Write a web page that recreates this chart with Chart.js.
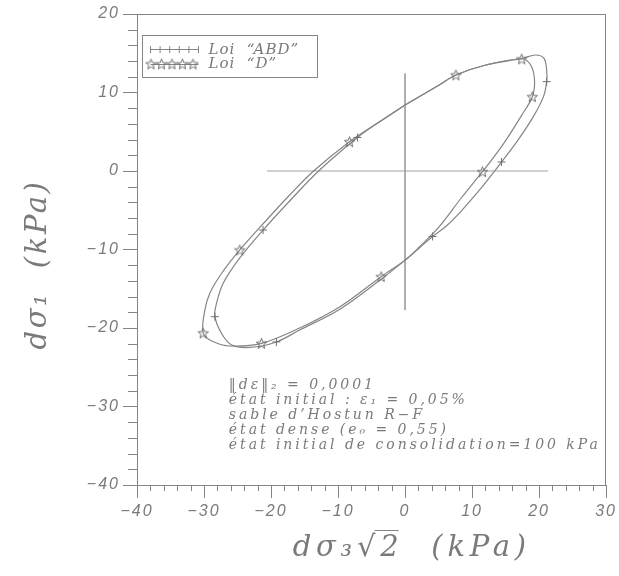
<!DOCTYPE html>
<html>
<head>
<meta charset="utf-8">
<script src="https://cdn.jsdelivr.net/npm/chart.js@4.4.1/dist/chart.umd.min.js"></script>
<style>
  html, body { margin: 0; padding: 0; background: #fff; }
  #wrap { width: 619px; height: 576px; }
</style>
</head>
<body>
<div id="wrap"><canvas id="graf"></canvas></div>
<script>
// Loi "D" (courbe fermée)
const loiD_x = [0, 5.10, 7.59, 12.05, 17.41, 18.75, 19.32, 18.99, 17.37, 14.96, 13.04, 11.55, 8.38, 5.10, 2.13, 0.04,
  -3.57, -9.78, -15.73, -21.43, -26.15, -28.68, -30.12, -29.87, -29.12, -27.34, -24.66, -20.94, -17.22, -13.65, -8.29, -4.12, 0];
const loiD_y = [8.41, 10.96, 12.23, 13.50, 14.27, 13.50, 11.59, 9.46, 7.06, 3.81, 1.54, -0.09, -3.44, -7.10, -9.68, -11.34,
  -13.46, -17.32, -20.0, -21.95, -22.29, -21.72, -20.64, -17.71, -15.54, -12.99, -10.06, -6.50, -3.06, 0, 3.73, 6.11, 8.41];

// Loi "ABD" (courbe fermée)
const loiABD_x = [0, 5.10, 7.59, 12.05, 17.41, 19.49, 20.73, 21.13, 21.13, 20.68, 19.21, 16.74, 14.40, 13.29, 11.06, 8.38, 6.15,
  4.11, 2.13, 0.04, -3.53, -9.78, -15.73, -19.20, -23.17, -25.85, -27.34, -28.38, -28.13, -27.14, -24.66, -21.19, -17.22, -12.90, -7.10, -3.9, 0];
const loiABD_y = [8.41, 10.96, 12.23, 13.50, 14.33, 14.78, 14.36, 12.87, 11.38, 9.54, 7.02, 3.80, 1.15, -0.09, -2.48, -5.10, -7.01,
  -8.34, -9.81, -11.34, -13.76, -17.64, -20.25, -21.78, -22.48, -22.17, -20.76, -18.56, -16.85, -14.31, -11.08, -7.52, -3.82, 0, 4.27, 6.2, 8.41];

// marqueurs
const etoilesD_x = [17.41, 7.59, -8.29, -24.66, -30.12, -21.43, -3.57, 11.55, 18.99];
const etoilesD_y = [14.27, 12.23, 3.73, -10.06, -20.64, -21.95, -13.46, -0.09, 9.46];
const croixABD_x = [21.13, 14.40, 4.11, -7.10, -21.19, -28.38, -19.20];
const croixABD_y = [11.38, 1.15, -8.34, 4.27, -7.52, -18.56, -21.78];

// axes de référence
const axeH_x = [-20.6, 21.35];
const axeH_y = [0, 0];
const axeV_x = [0, 0];
const axeV_y = [12.42, -17.71];

const legendeTextes = ['Loi  \u201CABD\u201D', 'Loi  \u201CD\u201D'];
const notes = [
  '\u2016d\u03B5\u2016\u2082 = 0,0001',
  '\u00E9tat initial : \u03B5\u2081 = 0,05%',
  'sable d\u2019Hostun R\u2212F',
  '\u00E9tat dense (e\u2080 = 0,55)',
  '\u00E9tat initial de consolidation=100 kPa'
];
const titreX = 'd\u03C3\u2083\u221A2  (kPa)';
const titreY = 'd\u03C3\u2081  (kPa)';

const gris = '#858585';
const grisClair = '#a2a2a2';
const grisTexte = '#7a7a7a';
const serif = '"DejaVu Serif", serif';

const pts = (xs, ys) => xs.map((x, i) => ({ x: x, y: ys[i] }));

// étoile creuse
const etoile = document.createElement('canvas');
etoile.width = 13;
etoile.height = 13;
const dessinerEtoile = (c, cx, cy, r) => {
  c.beginPath();
  for (let i = 0; i < 10; i++) {
    const a = -Math.PI / 2 + i * Math.PI / 5;
    const rr = i % 2 === 0 ? r : r * 0.42;
    c.lineTo(cx + rr * Math.cos(a), cy + rr * Math.sin(a));
  }
  c.closePath();
  c.stroke();
};
{
  const c = etoile.getContext('2d');
  c.strokeStyle = '#6f6f6f';
  c.lineWidth = 1;
  dessinerEtoile(c, 6.5, 7, 5.5);
}

const etiquette = (v) => {
  if (v % 10 !== 0) return '';
  return v < 0 ? '\u2212' + Math.abs(v) : String(v);
};

const policeTicks = { family: '"Liberation Sans", sans-serif', style: 'italic', size: 16 };

// écart entre lettres ajusté pour une largeur donnée
const espacer = (ctx, texte, largeur) => {
  ctx.letterSpacing = '0px';
  const w = ctx.measureText(texte).width;
  const n = [...texte].length;
  return Math.max(0, (largeur - w) / n);
};

const habillage = {
  id: 'habillage',
  beforeDraw(chart) {
    chart.ctx.letterSpacing = '2px';
  },
  afterDraw(chart) {
    const ctx = chart.ctx;
    const a = chart.chartArea;
    const sx = chart.scales.x;
    const sy = chart.scales.y;
    ctx.save();
    ctx.letterSpacing = '0px';
    ctx.strokeStyle = gris;
    ctx.lineWidth = 1;

    // cadre
    ctx.strokeRect(Math.round(a.left) + 0.5, Math.round(a.top) + 0.5, Math.round(a.right - a.left) - 1, Math.round(a.bottom - a.top));

    // petites graduations
    ctx.beginPath();
    sx.ticks.forEach(t => {
      if (t.value % 10 === 0) return;
      const px = Math.round(sx.getPixelForValue(t.value)) + 0.5;
      ctx.moveTo(px, a.bottom);
      ctx.lineTo(px, a.bottom + 6);
    });
    sy.ticks.forEach(t => {
      if (t.value % 10 === 0) return;
      const py = Math.round(sy.getPixelForValue(t.value)) + 0.5;
      ctx.moveTo(a.left - 9, py);
      ctx.lineTo(a.left, py);
    });
    ctx.stroke();

    // légende
    const lx = a.left + 5.5, ly = a.top + 21.5;
    ctx.strokeRect(lx, ly, 175, 42);
    const y1 = ly + 14, y2 = ly + 28;
    ctx.beginPath();
    ctx.moveTo(lx + 8, y1);
    ctx.lineTo(lx + 56, y1);
    for (let i = 0; i < 6; i++) {
      const cx = lx + 8 + i * 9.6;
      ctx.moveTo(cx, y1 - 3.5);
      ctx.lineTo(cx, y1 + 3.5);
    }
    ctx.moveTo(lx + 8, y2 + 1);
    ctx.lineTo(lx + 56, y2 + 1);
    ctx.stroke();
    for (let i = 0; i < 5; i++) {
      ctx.drawImage(etoile, lx + 2 + i * 10.5, y2 - 6);
    }
    ctx.fillStyle = grisTexte;
    ctx.textBaseline = 'middle';
    ctx.textAlign = 'left';
    ctx.font = 'italic 15px ' + serif;
    ctx.letterSpacing = '1px';
    ctx.fillText(legendeTextes[0], lx + 66, y1 + 1);
    ctx.fillText(legendeTextes[1], lx + 66, y2 + 1);

    // annotations
    ctx.font = 'italic 14px ' + serif;
    const esp = espacer(ctx, notes[4], 372);
    ctx.letterSpacing = esp + 'px';
    const nx = sx.getPixelForValue(-26.3);
    notes.forEach((t, i) => {
      ctx.fillText(t, nx, a.bottom - 100 + i * 15.2);
    });

    // titres des axes
    ctx.font = 'italic 29px ' + serif;
    ctx.textAlign = 'center';
    let e = espacer(ctx, titreX, 238);
    ctx.letterSpacing = e + 'px';
    const tx = sx.getPixelForValue(1), ty = a.bottom + 63;
    ctx.fillText(titreX, tx, ty);
    // barre du radical
    const wTot = ctx.measureText(titreX).width;
    const wAv = ctx.measureText('d\u03C3\u2083\u221A').width;
    const w2 = ctx.measureText('2').width;
    ctx.beginPath();
    ctx.moveTo(tx - wTot / 2 + wAv - e - 1, ty - 17.5);
    ctx.lineTo(tx - wTot / 2 + wAv + w2 - e, ty - 17.5);
    ctx.stroke();

    e = espacer(ctx, titreY, 170);
    ctx.letterSpacing = e + 'px';
    ctx.translate(38, (a.top + a.bottom) / 2 + 15);
    ctx.rotate(-Math.PI / 2);
    ctx.fillText(titreY, 0, 0);
    ctx.restore();
    ctx.letterSpacing = '0px';
  }
};

const serieLigne = (xs, ys) => ({
  data: pts(xs, ys),
  showLine: true,
  borderColor: gris,
  borderWidth: 1.2,
  pointRadius: 0,
  tension: 0.35,
  fill: false
});

new Chart(document.getElementById('graf'), {
  type: 'scatter',
  data: {
    datasets: [
      { label: 'Loi "ABD"', data: pts(croixABD_x, croixABD_y), pointStyle: 'cross', pointRadius: 4, borderColor: '#6f6f6f', borderWidth: 1 },
      { label: 'Loi "D"', data: pts(etoilesD_x, etoilesD_y), pointStyle: etoile, pointRadius: 6 },
      serieLigne(loiABD_x, loiABD_y),
      serieLigne(loiD_x, loiD_y),
      { data: pts(axeH_x, axeH_y), showLine: true, borderColor: grisClair, borderWidth: 1, pointRadius: 0 },
      { data: pts(axeV_x, axeV_y), showLine: true, borderColor: grisClair, borderWidth: 1, pointRadius: 0 }
    ]
  },
  options: {
    responsive: true,
    maintainAspectRatio: false,
    animation: false,
    devicePixelRatio: 1,
    layout: { padding: { top: 14, right: 12, left: 0, bottom: 0 } },
    plugins: {
      legend: { display: false },
      tooltip: { enabled: false }
    },
    scales: {
      x: {
        type: 'linear',
        min: -40,
        max: 30,
        afterFit(s) { s.height = 91; },
        border: { display: false },
        grid: {
          drawOnChartArea: false,
          drawTicks: true,
          tickLength: 13,
          tickWidth: 1,
          tickColor: (c) => (c.tick && c.tick.value % 10 === 0 ? gris : 'rgba(0,0,0,0)')
        },
        ticks: { stepSize: 2, autoSkip: false, maxRotation: 0, padding: 4, color: grisTexte, font: policeTicks, callback: etiquette }
      },
      y: {
        type: 'linear',
        min: -40,
        max: 20,
        afterFit(s) { s.width = 137; },
        border: { display: false },
        grid: {
          drawOnChartArea: false,
          drawTicks: true,
          tickLength: 14,
          tickWidth: 1,
          tickColor: (c) => (c.tick && c.tick.value % 10 === 0 ? gris : 'rgba(0,0,0,0)')
        },
        ticks: { stepSize: 2, autoSkip: false, padding: 3, color: grisTexte, font: policeTicks, callback: etiquette }
      }
    }
  },
  plugins: [habillage]
});
</script>
</body>
</html>
